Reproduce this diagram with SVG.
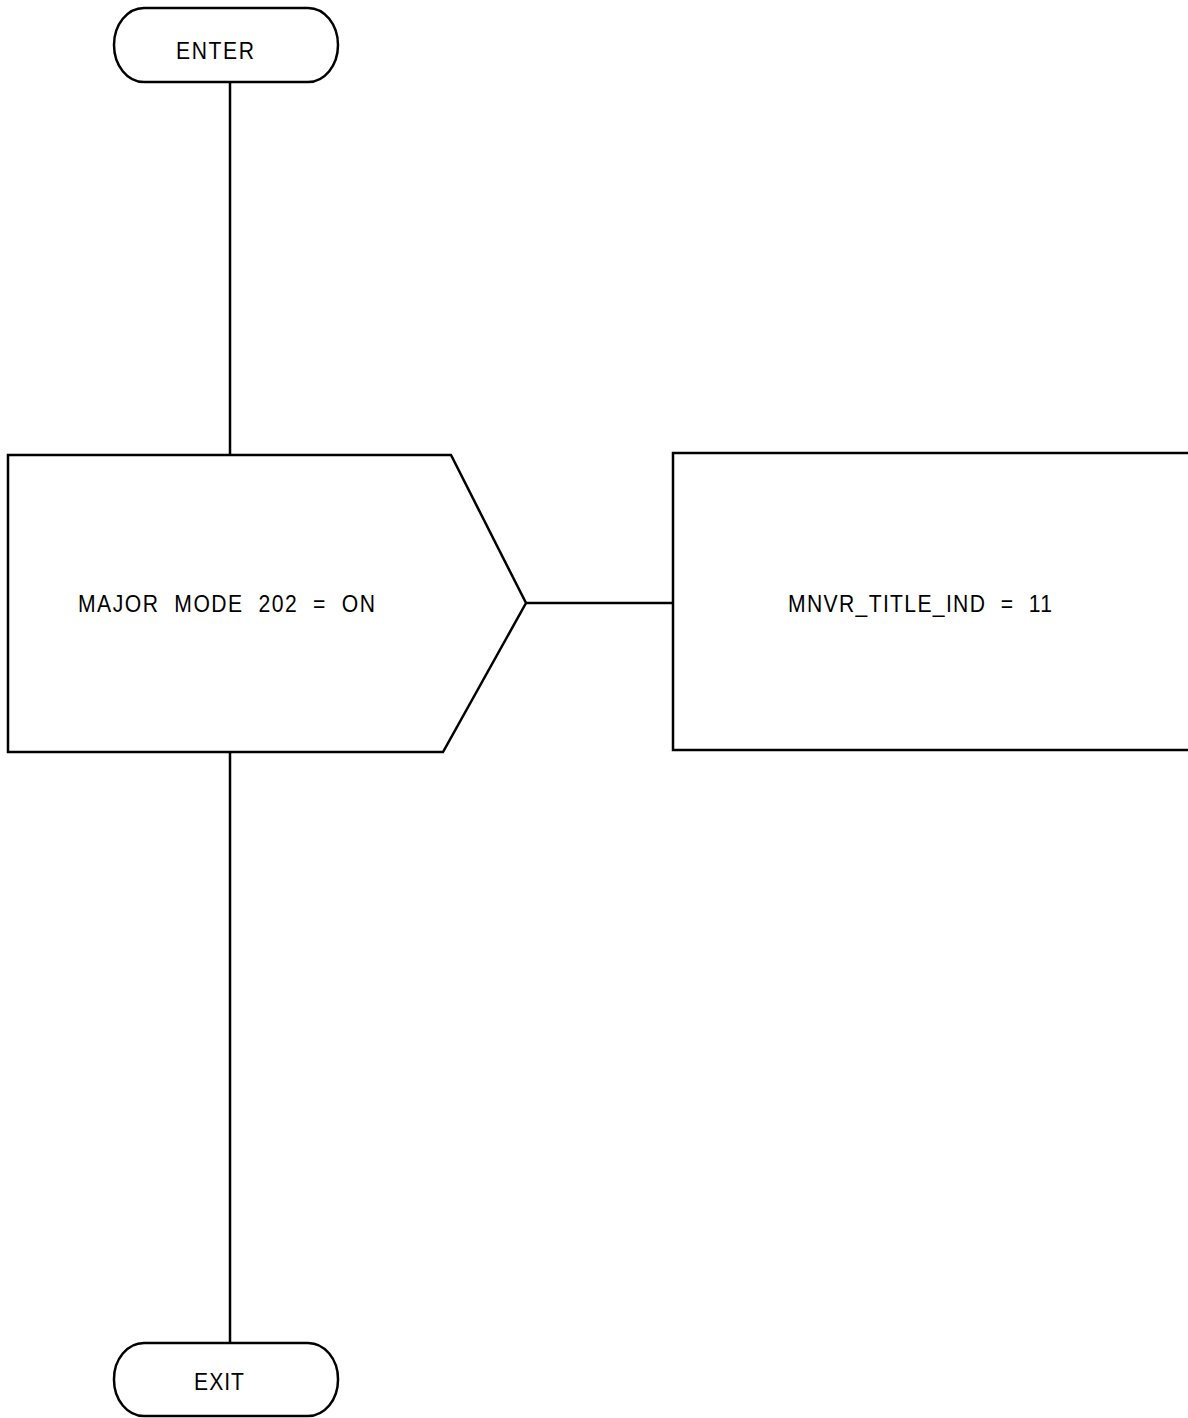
<svg xmlns="http://www.w3.org/2000/svg" width="1188" height="1418" viewBox="0 0 1188 1418">
<style>
.s{fill:#fff;stroke:#000;stroke-width:2.5}
.c{fill:none;stroke:#000;stroke-width:2.5}
.t{font-family:"Liberation Sans",Arial,sans-serif;font-size:24px;fill:#000;white-space:pre}
</style>
<rect width="1188" height="1418" fill="#fff"/>
<g id="connectors">
<line class="c" x1="230" y1="82" x2="230" y2="455"/>
<line class="c" x1="526" y1="603" x2="673" y2="603"/>
<line class="c" x1="230" y1="752" x2="230" y2="1343"/>
</g>
<g id="enter">
<rect class="s" x="114" y="8" width="224" height="74" rx="30" ry="37"/>
<text class="t" transform="scale(0.88 1)" x="200" y="59" textLength="88.6" lengthAdjust="spacing">ENTER</text>
</g>
<g id="decision">
<polygon class="s" points="8,455 451,455 526,603 443,752 8,752"/>
<text class="t" transform="scale(0.88 1)" x="88.6" y="612" textLength="337.5" lengthAdjust="spacing">MAJOR  MODE  202  =  ON</text>
</g>
<g id="process">
<rect class="s" x="673" y="453" width="530" height="297"/>
<text class="t" transform="scale(0.88 1)" x="895.5" y="612" textLength="300" lengthAdjust="spacing">MNVR_TITLE_IND  =  11</text>
</g>
<g id="exit">
<rect class="s" x="114" y="1343" width="224" height="73" rx="30" ry="36"/>
<text class="t" transform="scale(0.88 1)" x="220.5" y="1390" textLength="56.8" lengthAdjust="spacing">EXIT</text>
</g>
</svg>
